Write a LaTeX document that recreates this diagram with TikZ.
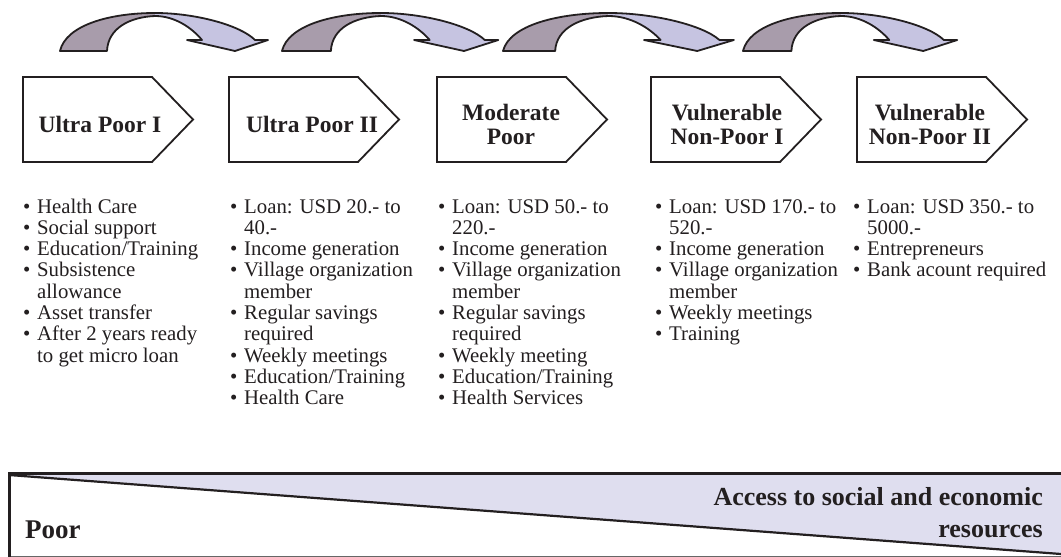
\documentclass[tikz,border=0pt]{standalone}
\usepackage{fontspec}
\setmainfont{Liberation Serif}
\definecolor{arrdark}{HTML}{A89CAB}
\definecolor{arrlight}{HTML}{C6C4E1}
\definecolor{wedgefill}{HTML}{DFDEEF}
\definecolor{ink}{HTML}{231F20}
\newcommand{\bitem}[1]{\hbox{\makebox[14pt][l]{•}#1}}
\newcommand{\bcont}[1]{\hbox{\hspace*{14pt}#1}}
\newcommand{\blist}[1]{\vtop{\fontsize{20.8}{21.3}\selectfont\baselineskip=21.3pt #1}}
\begin{document}
\begin{tikzpicture}[x=1pt,y=-1pt,
  every node/.style={text=ink, inner sep=0pt},
  arrline/.style={draw=ink, line width=1.8pt, line join=round},
  stagebox/.style={draw=ink, line width=1.8pt, fill=white, line join=miter},
  stagelabel/.style={anchor=base, font=\fontsize{23.5}{24}\selectfont\bfseries},
  listnode/.style={anchor=base west},
  curvarrow/.pic={
    \fill[arrdark] (0,51) .. controls (6,25) and (50,13) .. (95,13) -- (95,16)
      .. controls (70,17) and (48,28) .. (47,51) -- cycle;
    \fill[arrlight] (95,13) .. controls (135,13) and (180,25) .. (195,40) -- (208,40)
      -- (175,51) -- (127,40) -- (142,40) .. controls (132,28) and (115,16) .. (95,16) -- cycle;
    \draw[arrline] (0,51) .. controls (6,25) and (50,13) .. (95,13)
      .. controls (135,13) and (180,25) .. (195,40) -- (208,40) -- (175,51) -- (127,40) -- (142,40)
      .. controls (132,28) and (115,16) .. (95,16) .. controls (70,17) and (48,28) .. (47,51) -- cycle;
  }]
\useasboundingbox (0,0) rectangle (1061,557);
\fill[white] (0,0) rectangle (1061,557);

% curved arrows
\pic at (60,0) {curvarrow};
\pic[xscale=1.04] at (282,0) {curvarrow};
\pic[xscale=1.11] at (503,0) {curvarrow};
\pic[xscale=1.03] at (743,0) {curvarrow};

% stage boxes
\foreach \bx in {23,229,437,651,857}{
  \draw[stagebox] (\bx,77) -- ++(129,0) -- ++(41,42.5) -- ++(-41,42.5) -- ++(-129,0) -- cycle;
}
\node[stagelabel] (s1) at (100,132) {Ultra Poor I};
\node[stagelabel] (s2) at (312,132) {Ultra Poor II};
\node[stagelabel] (s3) at (511,120) {\begin{tabular}[t]{@{}c@{}}Moderate\\Poor\end{tabular}};
\node[stagelabel] (s4) at (727,120) {\begin{tabular}[t]{@{}c@{}}Vulnerable\\Non-Poor I\end{tabular}};
\node[stagelabel] (s5) at (930,120) {\begin{tabular}[t]{@{}c@{}}Vulnerable\\Non-Poor II\end{tabular}};

% lists
\node[listnode] (l1) at (23,213) {\blist{%
  \bitem{Health Care}
  \bitem{Social support}
  \bitem{Education/Training}
  \bitem{Subsistence}
  \bcont{allowance}
  \bitem{Asset transfer}
  \bitem{After 2 years ready}
  \bcont{to get micro loan}}};
\node[listnode] (l2) at (230,213) {\blist{%
  \bitem{Loan: USD 20.- to}
  \bcont{40.-}
  \bitem{Income generation}
  \bitem{Village organization}
  \bcont{member}
  \bitem{Regular savings}
  \bcont{required}
  \bitem{Weekly meetings}
  \bitem{Education/Training}
  \bitem{Health Care}}};
\node[listnode] (l3) at (438,213) {\blist{%
  \bitem{Loan: USD 50.- to}
  \bcont{220.-}
  \bitem{Income generation}
  \bitem{Village organization}
  \bcont{member}
  \bitem{Regular savings}
  \bcont{required}
  \bitem{Weekly meeting}
  \bitem{Education/Training}
  \bitem{Health Services}}};
\node[listnode] (l4) at (655,213) {\blist{%
  \bitem{Loan: USD 170.- to}
  \bcont{520.-}
  \bitem{Income generation}
  \bitem{Village organization}
  \bcont{member}
  \bitem{Weekly meetings}
  \bitem{Training}}};
\node[listnode] (l5) at (853,213) {\blist{%
  \bitem{Loan: USD 350.- to}
  \bcont{5000.-}
  \bitem{Entrepreneurs}
  \bitem{Bank acount required}}};

% bottom wedge
\fill[wedgefill] (9,474) -- (1061,474) -- (1061,554) -- cycle;
\draw[ink, line width=2.2pt] (9,475) -- (1061,554);
\draw[black!60, line width=1pt] (9,556) -- (1061,556);
\draw[ink, line width=3pt] (9,557) -- (9,473) -- (1061,473);
\node[anchor=base west, font=\fontsize{27}{28}\selectfont\bfseries] (poor) at (25,538) {Poor};
\node[anchor=base east, font=\fontsize{26}{32}\selectfont\bfseries] (access) at (1043,505)
  {\begin{tabular}[t]{@{}r@{}}Access to social and economic\\resources\end{tabular}};
\end{tikzpicture}
\end{document}
